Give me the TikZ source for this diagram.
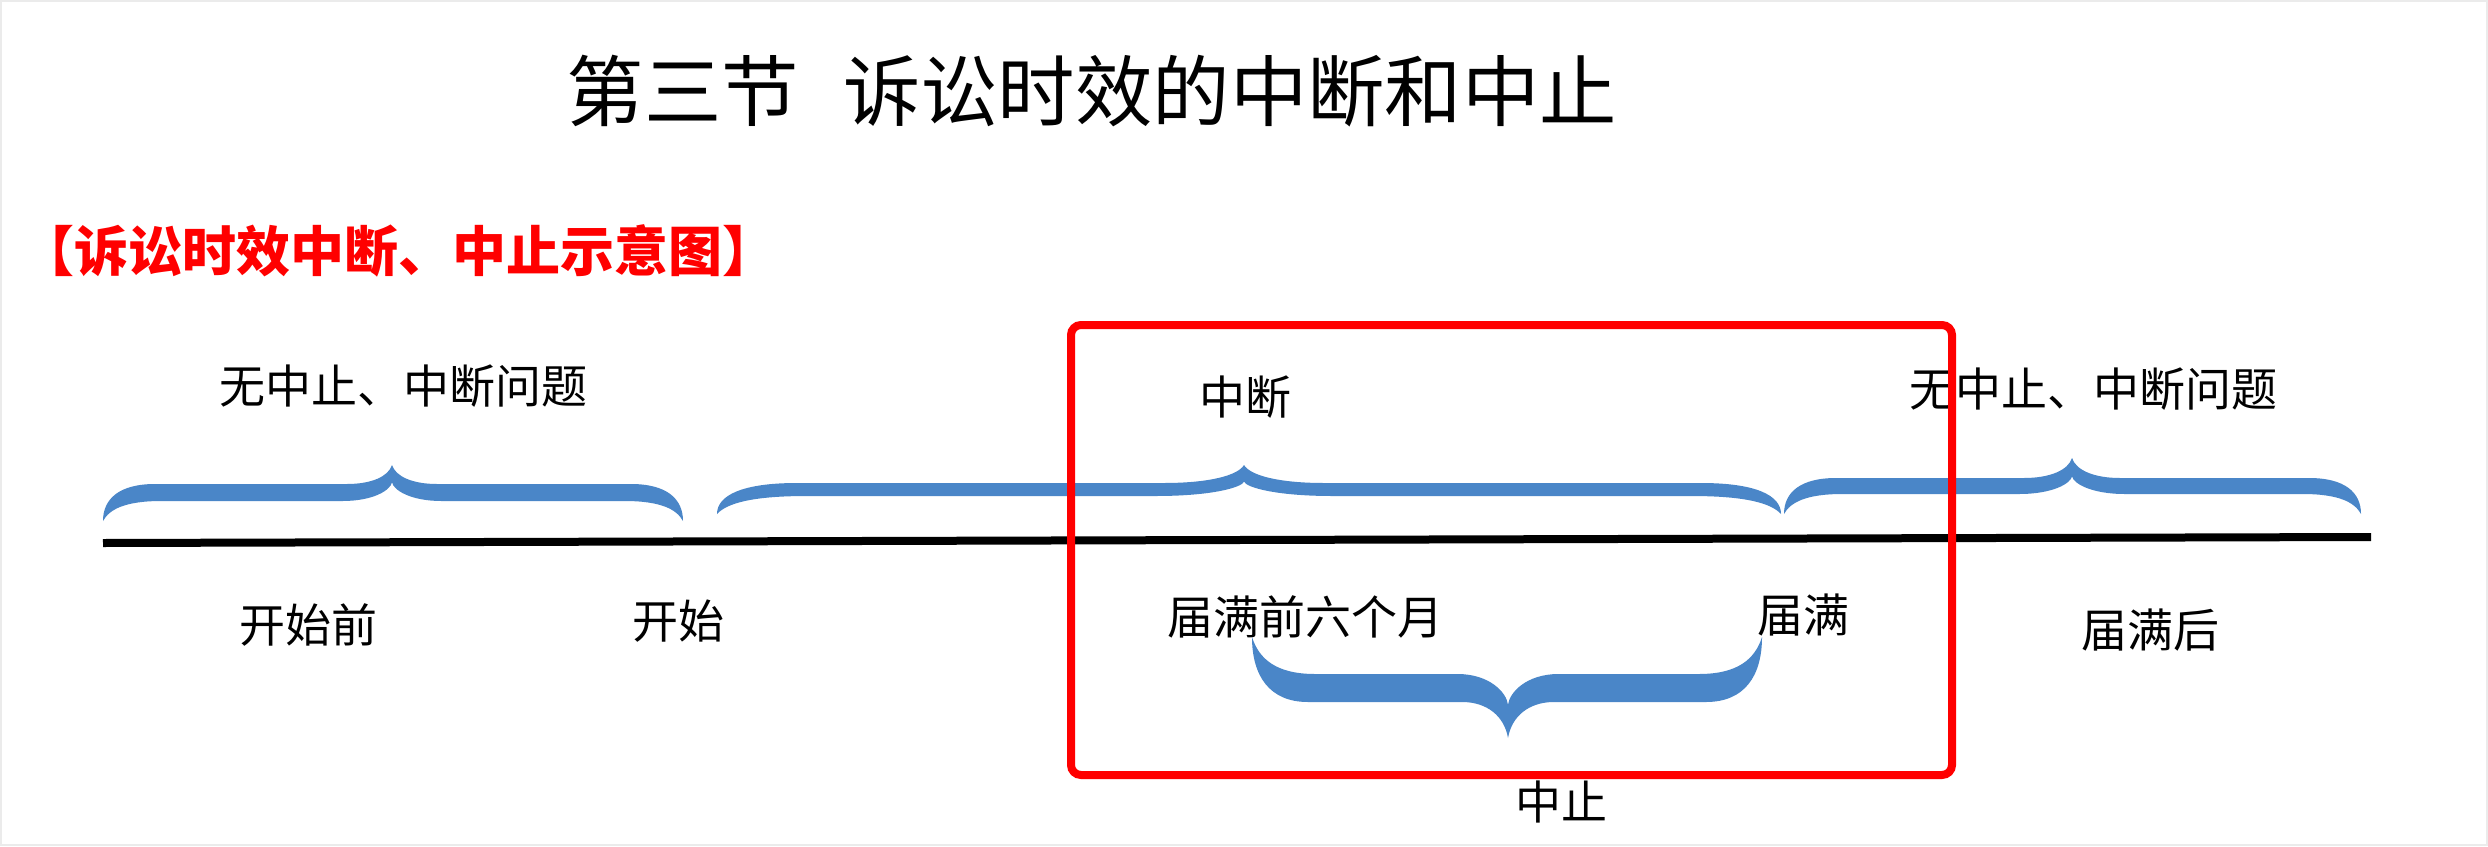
\documentclass[tikz,border=0pt]{standalone}
\usepackage{fontspec}
\setmainfont{Noto Sans CJK SC}
\definecolor{braceblue}{HTML}{4A86C8}
\definecolor{boxred}{HTML}{FF0000}
\tikzset{
  bracefill/.style={fill=braceblue},
  lbl/.style={inner sep=0pt, font=\fontsize{23pt}{26pt}\selectfont},
  titletext/.style={inner sep=0pt, font=\fontsize{38.7pt}{42pt}\selectfont},
  subtitletext/.style={inner sep=0pt, text=boxred, font=\fontsize{27pt}{30pt}\selectfont\bfseries},
  timeline/.style={line width=4pt, black},
  redbox/.style={draw=boxred, line width=4pt, rounded corners=5pt},
  frameline/.style={draw=black!8, line width=1pt}
}
% #1 xL, #2 xR, #3 xTip, #4 yEnds, #5 outer band edge, #6 yTip, #7 inner band edge, #8 end curve length, #9 tip curve length
\newcommand\blbrace[9]{%
  \fill[bracefill] (#1,#4) .. controls (#1,{#5+(#4-#5)*0.4}) and ({#1+0.25*#8},#5) .. ({#1+0.8*#8},#5)
   -- ({#3-#9},#5) .. controls ({#3-0.45*#9},#5) and ({#3-0.08*#9},{#5+(#6-#5)*0.4}) .. (#3,#6)
   .. controls ({#3+0.08*#9},{#5+(#6-#5)*0.4}) and ({#3+0.45*#9},#5) .. ({#3+#9},#5)
   -- ({#2-0.8*#8},#5) .. controls ({#2-0.25*#8},#5) and (#2,{#5+(#4-#5)*0.4}) .. (#2,#4)
   .. controls ({#2-0.1*#8},{#7+(#4-#7)*0.4}) and ({#2-0.35*#8},#7) .. ({#2-0.9*#8},#7)
   -- ({#3+1.1*#9},#7) .. controls ({#3+0.4*#9},#7) and ({#3+0.03*#9},{0.66*#5+0.34*#7}) .. (#3,{1.1*#5-0.1*#7})
   .. controls ({#3-0.03*#9},{0.66*#5+0.34*#7}) and ({#3-0.4*#9},#7) .. ({#3-1.1*#9},#7)
   -- ({#1+0.9*#8},#7) .. controls ({#1+0.35*#8},#7) and ({#1+0.1*#8},{#7+(#4-#7)*0.4}) .. (#1,#4) -- cycle;%
}
\begin{document}
\begin{tikzpicture}[x=0.5pt,y=-0.5pt]
\useasboundingbox (0,0) rectangle (2488,846);
\fill[white] (0,0) rectangle (2488,846);
\draw[frameline] (1,1) rectangle (2487,845);

% title and subtitle
\node[titletext] (title) at (1092,91) {第三节\hspace{0.57em}诉讼时效的中断和中止};
\node[subtitletext] (subtitle) at (398,251) {【诉讼时效中断、中止示意图】};

% braces
\blbrace{103}{683}{392}{521}{484}{465}{501}{65}{45}
\blbrace{717}{1781}{1244}{514}{483}{465}{496}{100}{80}
\blbrace{1784}{2361}{2072}{514}{478}{458}{494}{65}{48}
\blbrace{1252}{1762}{1508}{637}{702}{738}{674}{70}{46}

% timeline
\coordinate (lineL) at (103,543);
\coordinate (lineR) at (2371,537);
\draw[timeline] (lineL) -- (lineR);

% labels above
\node[lbl] (noL) at (403,386) {无中止、中断问题};
\node[lbl] (zd) at (1245,397) {中断};
\node[lbl] (noR) at (2093,389) {无中止、中断问题};

% labels below
\node[lbl] (ksq) at (308,625) {开始前};
\node[lbl] (ks) at (678,621) {开始};
\node[lbl] (jmq) at (1305,617) {届满前六个月};
\node[lbl] (jm) at (1803,615) {届满};
\node[lbl] (jmh) at (2150,630) {届满后};
\node[lbl] (zz) at (1561,802) {中止};

% red box
\coordinate (boxA) at (1071,325);
\coordinate (boxB) at (1952,775);
\draw[redbox] (boxA) rectangle (boxB);
\end{tikzpicture}
\end{document}
